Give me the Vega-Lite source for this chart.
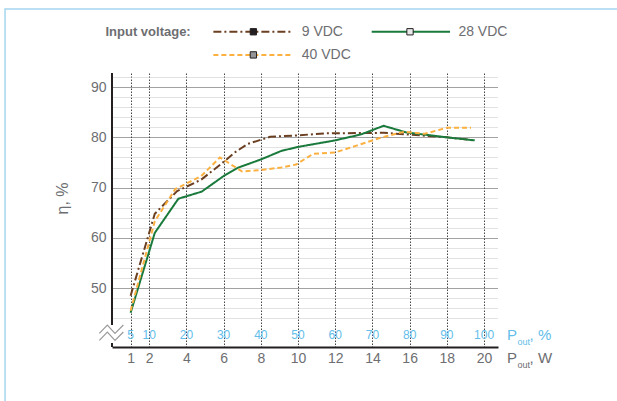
{
  "$schema": "https://vega.github.io/schema/vega-lite/v6.json",
  "width": 386,
  "height": 274,
  "autosize": {"type": "none"},
  "padding": {"left": 112, "top": 73, "right": 119, "bottom": 54},
  "background": "white",
  "config": {
    "view": {"stroke": null},
    "font": "Liberation Sans, Arial, sans-serif"
  },
  "datasets": {
    "frame": [{"W": -5.75, "W2": 32, "v": 105.52, "v2": 20}],
    "axisline": [{"v": 42.7, "v2": 92.8}, {"v": 38.3, "v2": 39.1}],
    "eff": [
      {"s": "9 VDC", "W": 1.0, "v": 48.5},
      {"s": "9 VDC", "W": 2.3, "v": 64.8},
      {"s": "9 VDC", "W": 3.5, "v": 69.3},
      {"s": "9 VDC", "W": 4.8, "v": 71.6},
      {"s": "9 VDC", "W": 5.9, "v": 74.8},
      {"s": "9 VDC", "W": 6.6, "v": 77.0},
      {"s": "9 VDC", "W": 7.3, "v": 78.7},
      {"s": "9 VDC", "W": 8.5, "v": 80.1},
      {"s": "9 VDC", "W": 10.0, "v": 80.4},
      {"s": "9 VDC", "W": 11.5, "v": 80.8},
      {"s": "9 VDC", "W": 14.6, "v": 80.9},
      {"s": "9 VDC", "W": 15.8, "v": 80.6},
      {"s": "9 VDC", "W": 18.0, "v": 80.0},
      {"s": "9 VDC", "W": 19.5, "v": 79.4},
      {"s": "28 VDC", "W": 1.0, "v": 45.1},
      {"s": "28 VDC", "W": 2.3, "v": 61.0},
      {"s": "28 VDC", "W": 3.57, "v": 67.8},
      {"s": "28 VDC", "W": 4.82, "v": 69.2},
      {"s": "28 VDC", "W": 6.0, "v": 72.3},
      {"s": "28 VDC", "W": 6.8, "v": 74.0},
      {"s": "28 VDC", "W": 8.0, "v": 75.6},
      {"s": "28 VDC", "W": 9.1, "v": 77.3},
      {"s": "28 VDC", "W": 10.0, "v": 78.1},
      {"s": "28 VDC", "W": 12.0, "v": 79.4},
      {"s": "28 VDC", "W": 13.4, "v": 80.6},
      {"s": "28 VDC", "W": 14.6, "v": 82.3},
      {"s": "28 VDC", "W": 15.8, "v": 81.0},
      {"s": "28 VDC", "W": 18.0, "v": 80.0},
      {"s": "28 VDC", "W": 19.5, "v": 79.4},
      {"s": "40 VDC", "W": 1.0, "v": 45.5},
      {"s": "40 VDC", "W": 2.3, "v": 63.3},
      {"s": "40 VDC", "W": 3.4, "v": 69.7},
      {"s": "40 VDC", "W": 4.8, "v": 72.3},
      {"s": "40 VDC", "W": 5.8, "v": 76.0},
      {"s": "40 VDC", "W": 7.0, "v": 73.2},
      {"s": "40 VDC", "W": 8.0, "v": 73.5},
      {"s": "40 VDC", "W": 9.1, "v": 74.0},
      {"s": "40 VDC", "W": 9.9, "v": 74.6},
      {"s": "40 VDC", "W": 10.8, "v": 76.7},
      {"s": "40 VDC", "W": 12.0, "v": 77.0},
      {"s": "40 VDC", "W": 13.1, "v": 78.3},
      {"s": "40 VDC", "W": 14.5, "v": 80.0},
      {"s": "40 VDC", "W": 15.7, "v": 81.1},
      {"s": "40 VDC", "W": 16.8, "v": 80.7},
      {"s": "40 VDC", "W": 18.0, "v": 81.9},
      {"s": "40 VDC", "W": 19.3, "v": 81.9}
    ],
    "legendItems": [
      {"s": "9 VDC", "W": 5.45, "W2": 9.72, "Wm": 7.6, "Wt": 10.2, "v": 101.0},
      {"s": "28 VDC", "W": 13.96, "W2": 18.17, "Wm": 16.02, "Wt": 18.62, "v": 101.0},
      {"s": "40 VDC", "W": 5.45, "W2": 9.72, "Wm": 7.6, "Wt": 10.2, "v": 96.4}
    ],
    "legendTitle": [{"t": "Input voltage:", "W": 4.23, "v": 101.0}],
    "pct": [
      {"W": 1, "p": "5"}, {"W": 2, "p": "10"}, {"W": 4, "p": "20"}, {"W": 6, "p": "30"},
      {"W": 8, "p": "40"}, {"W": 10, "p": "50"}, {"W": 12, "p": "60"}, {"W": 14, "p": "70"},
      {"W": 16, "p": "80"}, {"W": 18, "p": "90"}, {"W": 20, "p": "100"}
    ],
    "unitBig": [
      {"t": "P", "u": "pct", "W": 21.24, "v": 40.71},
      {"t": ", %", "u": "pct", "W": 22.45, "v": 40.71},
      {"t": "P", "u": "watt", "W": 21.24, "v": 36.14},
      {"t": ", W", "u": "watt", "W": 22.45, "v": 36.14}
    ],
    "unitSub": [
      {"t": "out", "u": "pct", "W": 21.8, "v": 39.3},
      {"t": "out", "u": "watt", "W": 21.8, "v": 34.7}
    ],
    "zigzag": [
      {"k": "a", "o": 1, "W": -0.68, "v": 41.02},
      {"k": "a", "o": 2, "W": -0.25, "v": 42.67},
      {"k": "a", "o": 3, "W": 0.16, "v": 41.02},
      {"k": "a", "o": 4, "W": 0.61, "v": 42.67},
      {"k": "b", "o": 1, "W": -0.68, "v": 39.63},
      {"k": "b", "o": 2, "W": -0.25, "v": 41.28},
      {"k": "b", "o": 3, "W": 0.16, "v": 39.63},
      {"k": "b", "o": 4, "W": 0.61, "v": 41.28}
    ]
  },
  "layer": [
    {
      "data": {"name": "frame"},
      "mark": {"type": "rect", "filled": false, "stroke": "#a5d5ef", "strokeWidth": 1.5},
      "encoding": {
        "x": {"field": "W", "type": "quantitative"},
        "x2": {"field": "W2"},
        "y": {"field": "v", "type": "quantitative"},
        "y2": {"field": "v2"}
      }
    },
    {
      "data": {"name": "eff"},
      "mark": {"type": "line", "strokeWidth": 2},
      "encoding": {
        "x": {
          "field": "W", "type": "quantitative",
          "scale": {"domain": [0, 20.75], "nice": false, "zero": false},
          "axis": {
            "title": null,
            "values": [1, 2, 4, 6, 8, 10, 12, 14, 16, 18, 20],
            "tickCount": 40,
            "format": "d",
            "grid": true, "gridColor": "#444444", "gridDash": [1.5, 1.5], "gridWidth": 1,
            "domainColor": "#231f20", "domainWidth": 2,
            "ticks": false,
            "labelColor": "#6d6e71", "labelFontSize": 14, "labelPadding": 4,
            "labelFlush": false, "labelOverlap": false
          }
        },
        "y": {
          "field": "v", "type": "quantitative",
          "scale": {"domain": [38.3, 92.8], "nice": false, "zero": false},
          "axis": {
            "title": "η, %",
            "titleColor": "#6d6e71", "titleFontSize": 16, "titleFontWeight": "normal",
            "titleX": -50, "titleY": 125, "titleAngle": -90, "titleBaseline": "middle", "titleAlign": "center",
            "values": [44, 46, 48, 50, 52, 54, 56, 58, 60, 62, 64, 66, 68, 70, 72, 74, 76, 78, 80, 82, 84, 86, 88, 90, 92],
            "tickCount": 60,
            "format": "d",
            "grid": true,
            "gridColor": {"condition": {"test": "datum.value % 10 === 0", "value": "#444444"}, "value": "#c4c4c4"},
            "gridDash": [1, 1], "gridWidth": 1,
            "domain": false, "ticks": false,
            "labelExpr": "datum.value % 10 === 0 ? datum.label : ''",
            "labelColor": "#6d6e71", "labelFontSize": 14, "labelPadding": 6,
            "labelOverlap": false, "labelFlush": false
          }
        },
        "color": {
          "field": "s", "type": "nominal",
          "scale": {"domain": ["9 VDC", "28 VDC", "40 VDC"], "range": ["#6b3f22", "#1a7a3c", "#fbb040"]},
          "legend": null
        },
        "strokeDash": {
          "field": "s", "type": "nominal",
          "scale": {"domain": ["9 VDC", "28 VDC", "40 VDC"], "range": [[8, 3, 2, 3], [1, 0], [5, 3]]},
          "legend": null
        }
      }
    },
    {
      "data": {"name": "axisline"},
      "mark": {"type": "rule", "color": "#231f20", "strokeWidth": 2},
      "encoding": {
        "x": {"datum": 0, "type": "quantitative"},
        "y": {"field": "v", "type": "quantitative"},
        "y2": {"field": "v2"}
      }
    },
    {
      "data": {"name": "zigzag"},
      "mark": {"type": "line", "color": "#9a9a9a", "strokeWidth": 1.2},
      "encoding": {
        "x": {"field": "W", "type": "quantitative"},
        "y": {"field": "v", "type": "quantitative"},
        "detail": {"field": "k"},
        "order": {"field": "o"}
      }
    },
    {
      "data": {"name": "pct"},
      "mark": {"type": "text", "color": "#62bde9", "fontSize": 12, "baseline": "middle", "align": "center"},
      "encoding": {
        "x": {"field": "W", "type": "quantitative"},
        "y": {"datum": 40.71, "type": "quantitative"},
        "text": {"field": "p"}
      }
    },
    {
      "data": {"name": "unitBig"},
      "mark": {"type": "text", "fontSize": 15, "baseline": "middle", "align": "left"},
      "encoding": {
        "x": {"field": "W", "type": "quantitative"},
        "y": {"field": "v", "type": "quantitative"},
        "text": {"field": "t"},
        "fill": {"field": "u", "type": "nominal", "scale": {"domain": ["pct", "watt"], "range": ["#62bde9", "#6d6e71"]}, "legend": null}
      }
    },
    {
      "data": {"name": "unitSub"},
      "mark": {"type": "text", "fontSize": 9, "baseline": "middle", "align": "left"},
      "encoding": {
        "x": {"field": "W", "type": "quantitative"},
        "y": {"field": "v", "type": "quantitative"},
        "text": {"field": "t"},
        "fill": {"field": "u", "type": "nominal", "scale": {"domain": ["pct", "watt"], "range": ["#62bde9", "#6d6e71"]}, "legend": null}
      }
    },
    {
      "data": {"name": "legendTitle"},
      "mark": {"type": "text", "fontSize": 13, "fontWeight": "bold", "color": "#6d6e71", "align": "right", "baseline": "middle"},
      "encoding": {
        "x": {"field": "W", "type": "quantitative"},
        "y": {"field": "v", "type": "quantitative"},
        "text": {"field": "t"}
      }
    },
    {
      "data": {"name": "legendItems"},
      "mark": {"type": "rule", "strokeWidth": 2},
      "encoding": {
        "x": {"field": "W", "type": "quantitative"},
        "x2": {"field": "W2"},
        "y": {"field": "v", "type": "quantitative"},
        "color": {"field": "s", "type": "nominal", "legend": null},
        "strokeDash": {"field": "s", "type": "nominal", "legend": null}
      }
    },
    {
      "data": {"name": "legendItems"},
      "mark": {"type": "point", "shape": "square", "filled": true, "size": 40, "stroke": "#231f20", "strokeWidth": 1, "opacity": 1},
      "encoding": {
        "x": {"field": "Wm", "type": "quantitative"},
        "y": {"field": "v", "type": "quantitative"},
        "fill": {"field": "s", "type": "nominal", "scale": {"domain": ["9 VDC", "28 VDC", "40 VDC"], "range": ["#231f20", "#e8e8e8", "#939598"]}, "legend": null}
      }
    },
    {
      "data": {"name": "legendItems"},
      "mark": {"type": "text", "fontSize": 14, "color": "#6d6e71", "align": "left", "baseline": "middle"},
      "encoding": {
        "x": {"field": "Wt", "type": "quantitative"},
        "y": {"field": "v", "type": "quantitative"},
        "text": {"field": "s"}
      }
    }
  ],
  "resolve": {"scale": {"fill": "independent"}}
}
